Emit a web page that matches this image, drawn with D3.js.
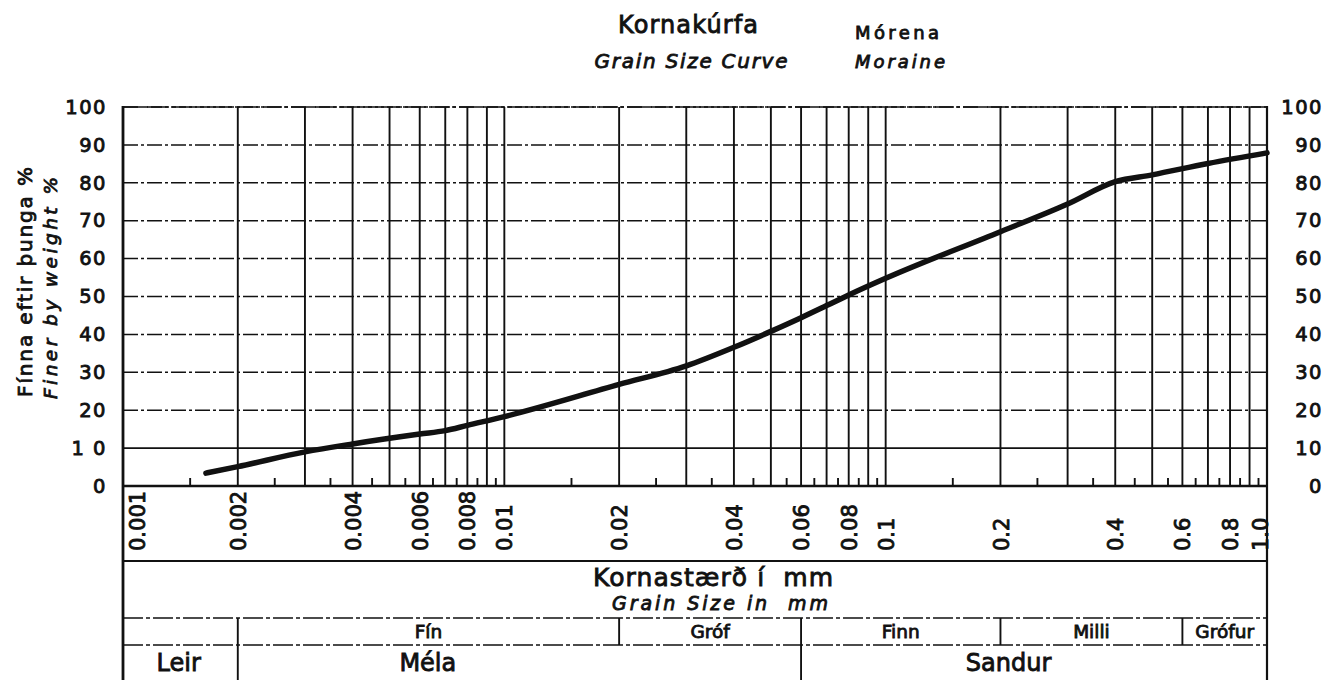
<!DOCTYPE html>
<html><head><meta charset="utf-8">
<script src="https://cdn.jsdelivr.net/npm/d3@7"></script>
<style>
body{margin:0;background:#fff;}
svg{display:block;}
text{font-family:"DejaVu Sans",sans-serif;fill:#111;white-space:pre;}
</style></head><body>
<svg id="c" width="1337" height="680"></svg>
<script>
// ---------- data ----------
const curveSize  = [0.00165, 0.002, 0.003, 0.004, 0.006, 0.007, 0.008, 0.01, 0.02, 0.03, 0.04, 0.05, 0.06, 0.07, 0.08, 0.1, 0.2, 0.3, 0.4, 0.5, 0.7, 1.0];
const curveFiner = [3.4, 5.1, 9.0, 11.1, 13.7, 14.6, 16.0, 18.3, 26.8, 31.7, 36.6, 40.8, 44.4, 47.6, 50.4, 54.8, 67.1, 74.4, 80.3, 82.1, 85.1, 87.9];
const yTicks = [0, 10, 20, 30, 40, 50, 60, 70, 80, 90, 100];
const yTickLabels = ["0", "1 0", "20", "30", "40", "50", "60", "70", "80", "90", "100"];
const yTickLabelsRight = ["0", "10", "20", "30", "40", "50", "60", "70", "80", "90", "100"];
const xLabelValues = [0.001, 0.002, 0.004, 0.006, 0.008, 0.01, 0.02, 0.04, 0.06, 0.08, 0.1, 0.2, 0.4, 0.6, 0.8, 1.0];
const xTickLabels = ["0.001", "0.002", "0.004", "0.006", "0.008", "0.01", "0.02", "0.04", "0.06", "0.08", "0.1", "0.2", "0.4", "0.6", "0.8", "1.0"];
const subClassNames = ["Fín", "Gróf", "Finn", "Milli", "Grófur"];
const subClassFrom  = [0.002, 0.02, 0.06, 0.2, 0.6];
const subClassTo    = [0.02, 0.06, 0.2, 0.6, 1.0];
const mainClassNames = ["Leir", "Méla", "Sandur"];
const mainClassFrom  = [0.001, 0.002, 0.06];
const mainClassLabelAt = [0.0014, 0.0063, 0.21];
const titleMain = "Kornakúrfa", titleSub = "Grain Size Curve";
const soilMain = "Mórena", soilSub = "Moraine";
const yTitle1 = "Fínna eftir þunga %", yTitle2 = "Finer by weight %";
const xTitle1 = "Kornastærð í  mm", xTitle2 = "Grain Size in  mm";

// ---------- layout ----------
const L = 123, R = 1267, T = 107, B = 486;
const ROW1 = 561, ROW2 = 618, ROW3 = 645, BOT = 680;
const ink = "#111";
const SW = 0.85;
const svg = d3.select("#c");

const x = d3.scaleLog().domain([0.001, 1]).range([L, R]);
const y = d3.scaleLinear().domain([0, 100]).range([B, T]);

// horizontal dashed grid
svg.append("g").selectAll("line").data(yTicks.filter(d => d > 0)).join("line")
  .attr("x1", L).attr("x2", R).attr("y1", d => y(d)).attr("y2", d => y(d))
  .attr("stroke", ink).attr("stroke-width", d => d === 10 ? 1.7 : 1.5)
  .attr("stroke-dasharray", d => d === 10 ? null : "15,3,3,3");

// vertical grid
const major = x.ticks().filter(d => d > 0.0011 && d < 0.99);
svg.append("g").selectAll("line").data(major).join("line")
  .attr("x1", d => x(d)).attr("x2", d => x(d)).attr("y1", T).attr("y2", B)
  .attr("stroke", ink).attr("stroke-width", 1.9);

// minor ticks
const minor = [];
[-3, -2, -1].forEach(k => d3.range(1.5, 10, 1).forEach(m => minor.push(m * Math.pow(10, k))));
svg.append("g").selectAll("line").data(minor).join("line")
  .attr("x1", d => x(d)).attr("x2", d => x(d)).attr("y1", B).attr("y2", B - 8)
  .attr("stroke", ink).attr("stroke-width", 1.9);

// borders
const frame = svg.append("g").attr("stroke", ink);
frame.append("line").attr("x1", L).attr("x2", L).attr("y1", T - 1).attr("y2", BOT).attr("stroke-width", 2.8);
frame.append("line").attr("x1", R).attr("x2", R).attr("y1", T - 1).attr("y2", BOT).attr("stroke-width", 2.2);
frame.append("line").attr("x1", L).attr("x2", R).attr("y1", B).attr("y2", B).attr("stroke-width", 2.4);
frame.append("line").attr("x1", L).attr("x2", R).attr("y1", T).attr("y2", T).attr("stroke-width", 1.7).attr("stroke-dasharray", "18,3,4,3");
frame.append("line").attr("x1", L).attr("x2", R).attr("y1", ROW1).attr("y2", ROW1).attr("stroke-width", 2.2);
frame.append("line").attr("x1", L).attr("x2", R).attr("y1", ROW2).attr("y2", ROW2).attr("stroke-width", 1.7).attr("stroke-dasharray", "20,3,4,3");
frame.append("line").attr("x1", L).attr("x2", R).attr("y1", ROW3).attr("y2", ROW3).attr("stroke-width", 1.7).attr("stroke-dasharray", "20,3,4,3");

// class dividers
svg.append("g").selectAll("line").data(subClassFrom).join("line")
  .attr("x1", d => x(d)).attr("x2", d => x(d)).attr("y1", ROW2).attr("y2", ROW3)
  .attr("stroke", ink).attr("stroke-width", 1.9);
svg.append("g").selectAll("line").data(mainClassFrom.slice(1)).join("line")
  .attr("x1", d => x(d)).attr("x2", d => x(d)).attr("y1", ROW3).attr("y2", BOT)
  .attr("stroke", ink).attr("stroke-width", 1.9);

// curve
const pts = curveSize.map((s, i) => [s, curveFiner[i]]);
svg.append("path").datum(pts)
  .attr("d", d3.line().x(d => x(d[0])).y(d => y(d[1])).curve(d3.curveMonotoneX))
  .attr("fill", "none").attr("stroke", ink).attr("stroke-width", 5.5)
  .attr("stroke-linecap", "round").attr("stroke-linejoin", "round");

// y axes
const yl = svg.append("g").attr("transform", `translate(${L},0)`)
  .call(d3.axisLeft(y).tickValues(yTicks).tickSize(0).tickPadding(16).tickFormat((d, i) => yTickLabels[i]));
yl.select(".domain").remove();
yl.selectAll("text").attr("font-size", 19.5).attr("font-family", "DejaVu Sans").attr("fill", ink)
  .attr("stroke", ink).attr("stroke-width", SW).style("letter-spacing", "1.5px");
const yr = svg.append("g").attr("transform", `translate(${R},0)`)
  .call(d3.axisRight(y).tickValues(yTicks).tickSize(0).tickPadding(0).tickFormat((d, i) => yTickLabelsRight[i]));
yr.select(".domain").remove();
yr.selectAll("text").attr("font-size", 19.5).attr("font-family", "DejaVu Sans").attr("fill", ink)
  .attr("text-anchor", "end").attr("x", 56)
  .attr("stroke", ink).attr("stroke-width", SW).style("letter-spacing", "1.5px");

// x axis labels (rotated)
const xa = svg.append("g").attr("transform", `translate(0,${B})`)
  .call(d3.axisBottom(x).tickValues(xLabelValues).tickSize(0).tickFormat((d, i) => xTickLabels[i]));
xa.select(".domain").remove();
xa.selectAll("text")
  .attr("font-size", 21).attr("font-family", "DejaVu Sans").attr("fill", ink)
  .attr("stroke", ink).attr("stroke-width", SW)
  .attr("text-anchor", "start")
  .attr("transform", "rotate(-90)")
  .attr("y", 0).attr("x", -(551 - B))
  .attr("dy", (d, i) => i === 0 ? "1.0em" : (i === xLabelValues.length - 1 ? "0em" : "0.36em"));

// helper text
function txt(str, px, py, opt) {
  const t = svg.append("text").text(str).attr("x", px).attr("y", py)
    .attr("font-size", opt.size).attr("text-anchor", opt.anchor || "middle")
    .attr("fill", ink).attr("stroke", ink).attr("stroke-width", opt.sw == null ? SW : opt.sw);
  if (opt.italic) t.attr("font-style", "italic");
  if (opt.len) t.attr("textLength", opt.len).attr("lengthAdjust", "spacing");
  if (opt.rot) t.attr("transform", `rotate(${opt.rot},${px},${py})`);
  return t;
}

// titles
txt(titleMain, 688, 33, {size: 24, len: 140});
txt(titleSub, 691, 68, {size: 20, italic: true, len: 193});
txt(soilMain, 897, 39, {size: 18, len: 84});
txt(soilSub, 900, 68, {size: 18, italic: true, len: 90});

// y titles
txt(yTitle1, 32, 282, {size: 20, rot: -90, len: 230});
txt(yTitle2, 57, 288, {size: 18.5, rot: -90, italic: true, len: 222});

// x titles
txt(xTitle1, 713, 586, {size: 25, len: 240});
txt(xTitle2, 720, 610, {size: 19, italic: true, len: 216});

// class rows
subClassNames.forEach((n, i) => {
  const mid = Math.sqrt(subClassFrom[i] * subClassTo[i]);
  txt(n, x(mid), 638, {size: 18.5});
});
mainClassNames.forEach((n, i) => {
  txt(n, x(mainClassLabelAt[i]), 671, {size: 24});
});
</script>
</body></html>
